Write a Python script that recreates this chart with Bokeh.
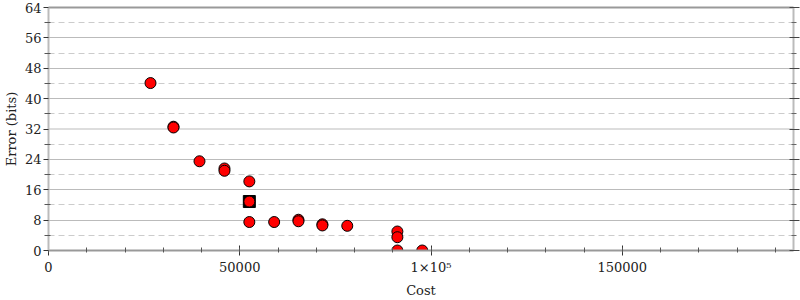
from bokeh.plotting import figure
from bokeh.models import FixedTicker, LinearAxis, Span, CustomJSTickFormatter, Range1d
from bokeh.embed import file_html
from bokeh.resources import INLINE

# data
cost = [26660, 32670, 32670, 39470, 46000, 46000, 52500, 52500, 52500, 58990,
        65340, 65340, 71600, 71600, 78100, 91200, 91200, 91200, 97700]
error = [44.1, 32.6, 32.4, 23.5, 21.6, 21.0, 18.2, 12.9, 7.5, 7.5,
         8.1, 7.7, 6.9, 6.6, 6.5, 5.0, 3.5, 0.0, 0.0]
best_cost = [52500]
best_error = [12.9]
y_major = [0, 8, 16, 24, 32, 40, 48, 56, 64]
y_minor = [4, 12, 20, 28, 36, 44, 52, 60]
x_major = [0, 50000, 100000, 150000]
x_minor = list(range(0, 200000, 10000))

FONT = "DejaVu Serif"

p = figure(width=800, height=300, output_backend="svg", toolbar_location=None,
           x_range=Range1d(0, 194750), y_range=Range1d(0, 64),
           min_border_left=48, min_border_right=7, min_border_top=7, min_border_bottom=50)
p.background_fill_color = "white"
p.border_fill_color = "white"
p.outline_line_color = None

# grid
p.xgrid.grid_line_color = None
p.ygrid.ticker = FixedTicker(ticks=y_major, minor_ticks=y_minor)
p.ygrid.grid_line_color = "#bbbbbb"
p.ygrid.grid_line_width = 1
p.ygrid.minor_grid_line_color = "#cccccc"
p.ygrid.minor_grid_line_dash = "6 4"
p.ygrid.minor_grid_line_width = 1

p.add_layout(Span(location=32, dimension="width", line_color="#dddddd", line_width=2,
                  level="underlay"))

# axes
xa = p.xaxis[0]
xa.ticker = FixedTicker(ticks=x_major, minor_ticks=x_minor)
xa.formatter = CustomJSTickFormatter(code="return tick == 100000 ? '1\u00d710\u2075' : tick.toFixed(0);")
xa.axis_label = "Cost"
ya = p.yaxis[0]
ya.ticker = FixedTicker(ticks=y_major, minor_ticks=y_minor)
ya.axis_label = "Error (bits)"

for ax in (xa, ya):
    ax.axis_label_text_font = FONT
    ax.axis_label_text_font_style = "normal"
    ax.axis_label_text_font_size = "13px"
    ax.axis_label_text_color = "#222222"
    ax.major_label_text_font = FONT
    ax.major_label_text_font_size = "13px"
    ax.major_label_text_color = "#222222"
    ax.major_tick_line_color = "#333333"
    ax.minor_tick_line_color = "#555555"
    ax.axis_line_width = 2

xa.axis_line_color = "#999999"
xa.major_tick_in = 5
xa.major_tick_out = 5
xa.minor_tick_in = 3
xa.minor_tick_out = 2
xa.major_label_standoff = 4
xa.axis_label_standoff = 5

ya.axis_line_color = "#bbbbbb"
ya.major_tick_in = 0
ya.major_tick_out = 5
ya.minor_tick_in = 2
ya.minor_tick_out = 4
ya.major_label_standoff = 2
ya.axis_label_standoff = 3

ra = LinearAxis(ticker=FixedTicker(ticks=y_major, minor_ticks=y_minor))
ra.major_label_text_font_size = "0px"
ra.major_label_text_color = None
ra.axis_line_color = "#bbbbbb"
ra.axis_line_width = 2
ra.major_tick_in = 4
ra.major_tick_out = 6
ra.minor_tick_in = 2
ra.minor_tick_out = 3
ra.major_tick_line_color = "#444444"
ra.minor_tick_line_color = "#666666"
ra.major_label_standoff = 0
p.add_layout(ra, "right")

ta = LinearAxis(ticker=FixedTicker(ticks=[]))
ta.major_label_text_font_size = "0px"
ta.major_label_standoff = 0
ta.axis_line_color = "#999999"
ta.axis_line_width = 2
ta.major_tick_line_color = None
ta.minor_tick_line_color = None
p.add_layout(ta, "above")

# marks
p.scatter(best_cost, best_error, marker="square", size=12, fill_color="black", line_color="black")
p.scatter(cost, error, marker="circle", size=11, fill_color="red", line_color="black", line_width=1)

open("out.html", "w").write(file_html(p, INLINE))
